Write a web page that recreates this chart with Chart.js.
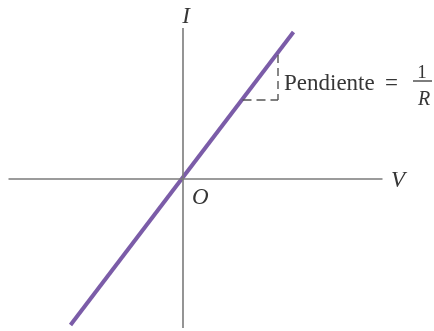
<!DOCTYPE html>
<html>
<head>
<meta charset="utf-8">
<script src="https://cdn.jsdelivr.net/npm/chart.js@4/dist/chart.umd.min.js"></script>
<style>
html,body{margin:0;padding:0;background:#fff;}
canvas{display:block;}
</style>
</head>
<body>
<canvas id="c" width="434" height="331"></canvas>
<script>
// Data (units: V horizontal, I vertical)
const lineV = [-11.2, 11.1];
const lineI = [-14.6, 14.7];
const vAxisV = [-17.4, 20.0];
const vAxisI = [0, 0];
const iAxisV = [0.05, 0.05];
const iAxisI = [-14.9, 15.1];
const slopeRiseV = [9.55, 9.55];
const slopeRiseI = [12.4, 7.9];
const slopeRunV = [6.0, 9.55];
const slopeRunI = [7.9, 7.9];

function pts(xs, ys){ return xs.map((x,i)=>({x:x, y:ys[i]})); }

const labelPlugin = {
  id: 'labels',
  afterDraw(chart){
    const ctx = chart.ctx, xs = chart.scales.x, ys = chart.scales.y;
    const px = v => xs.getPixelForValue(v), py = v => ys.getPixelForValue(v);
    ctx.save();
    ctx.textBaseline = 'alphabetic';
    ctx.fillStyle = '#363636';
    ctx.font = 'italic 23px "Liberation Serif"';
    ctx.textAlign = 'center';
    ctx.fillText('I', px(0.35), py(15.6));
    ctx.textAlign = 'left';
    ctx.fillText('V', px(20.85), py(-0.8));
    ctx.fillText('O', px(0.95), py(-2.5));
    ctx.font = '23px "Liberation Serif"';
    ctx.fillText('Pendiente', px(10.15), py(8.9));
    ctx.fillText('=', px(20.25), py(8.9));
    ctx.textAlign = 'center';
    ctx.font = '19px "Liberation Serif"';
    ctx.fillText('1', px(23.95), py(10.1));
    ctx.font = 'italic 20px "Liberation Serif"';
    ctx.fillText('R', px(24.15), py(7.4));
    ctx.strokeStyle = '#363636';
    ctx.lineWidth = 1.3;
    ctx.beginPath();
    ctx.moveTo(px(23.05), py(9.8));
    ctx.lineTo(px(24.95), py(9.8));
    ctx.stroke();
    ctx.restore();
  }
};

new Chart(document.getElementById('c'), {
  type: 'scatter',
  data: {
    datasets: [
      { data: pts(vAxisV, vAxisI), showLine: true, borderColor: '#7a7a7a', borderWidth: 1.6, pointRadius: 0 },
      { data: pts(iAxisV, iAxisI), showLine: true, borderColor: '#7a7a7a', borderWidth: 1.6, pointRadius: 0 },
      { data: pts(slopeRiseV, slopeRiseI), showLine: true, borderColor: '#555', borderWidth: 1.4, borderDash: [8,5], pointRadius: 0 },
      { data: pts(slopeRunV, slopeRunI), showLine: true, borderColor: '#555', borderWidth: 1.4, borderDash: [9,5], pointRadius: 0 },
      { data: pts(lineV, lineI), showLine: true, borderColor: '#7b5ca8', borderWidth: 4, pointRadius: 0, borderCapStyle: 'butt' }
    ]
  },
  options: {
    responsive: false,
    animation: false,
    layout: { padding: 0 },
    plugins: { legend: { display: false }, tooltip: { enabled: false } },
    scales: {
      x: { type: 'linear', min: -18.25, max: 25.15, display: false },
      y: { type: 'linear', min: -15.2, max: 17.9, display: false }
    }
  },
  plugins: [labelPlugin]
});
</script>
</body>
</html>
